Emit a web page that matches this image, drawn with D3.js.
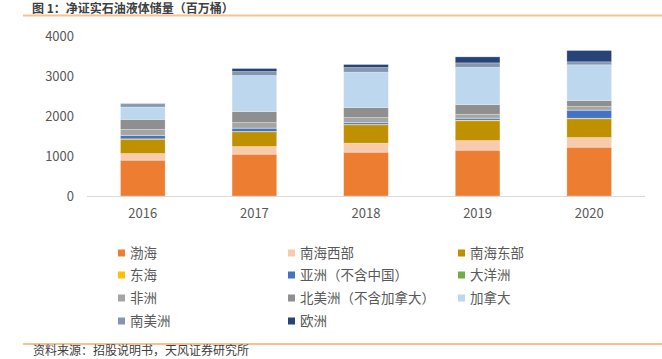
<!DOCTYPE html>
<html><head><meta charset="utf-8">
<script src="https://cdn.jsdelivr.net/npm/d3@7"></script>
<style>body{margin:0;background:#fff}svg{display:block}text{font-family:"Noto Sans CJK SC","Liberation Sans",sans-serif}</style>
</head><body><svg id="c" width="662" height="359"></svg>
<script>
const years = ["2016","2017","2018","2019","2020"];
const seriesNames = ["渤海","南海西部","南海东部","东海","亚洲（不含中国）","大洋洲","非洲","北美洲（不含加拿大）","加拿大","南美洲","欧洲"];
const bohai     = [895, 1045, 1095, 1145, 1220];
const nanhaiXi  = [167, 192, 225, 242, 242];
const nanhaiDong= [358, 368, 460, 493, 468];
const donghai   = [10, 10, 10, 18, 15];
const asia      = [85, 80, 40, 45, 200];
const oceania   = [5, 5, 5, 5, 5];
const africa    = [145, 137, 127, 95, 87];
const northAm   = [250, 275, 250, 242, 150];
const canada    = [310, 900, 883, 933, 893];
const southAm   = [82, 100, 117, 110, 75];
const europe    = [5, 75, 75, 150, 282];
const yTicks = [0, 1000, 2000, 3000, 4000];
const colors = ["#ED7D31","#F8CBAD","#BF9000","#FFC000","#4472C4","#70AD47","#A5A5A5","#8F8F8F","#BDD7EE","#8497B0","#264478"];

const allSeries = [bohai,nanhaiXi,nanhaiDong,donghai,asia,oceania,africa,northAm,canada,southAm,europe];
const rows = years.map((y,i)=>{const o={year:y};seriesNames.forEach((n,k)=>o[n]=allSeries[k][i]);return o;});
const stacked = d3.stack().keys(seriesNames)(rows);

const svg = d3.select("#c");
const x = d3.scaleBand().domain(years).range([87,645]).paddingInner(0.6).paddingOuter(0.3);
const y = d3.scaleLinear().domain([0,4000]).range([196,36]);

// title & decorations
svg.append("text").attr("x",32).attr("y",12.5).attr("font-size",12).attr("font-weight","bold").attr("fill","#404040").text("图 1：净证实石油液体储量（百万桶）");
svg.append("line").attr("x1",23).attr("x2",662).attr("y1",15.5).attr("y2",15.5).attr("stroke","#FAC090").attr("stroke-width",2);
svg.append("line").attr("x1",23).attr("x2",662).attr("y1",344).attr("y2",344).attr("stroke","#FAC090").attr("stroke-width",2);
svg.append("text").attr("x",33).attr("y",355).attr("font-size",12).attr("fill","#404040").text("资料来源：招股说明书，天风证券研究所");

// y axis labels
svg.append("g").selectAll("text").data(yTicks).join("text")
  .attr("x",74).attr("y",d=>y(d)).attr("dy","0.35em").attr("text-anchor","end")
  .attr("font-size",13).attr("fill","#595959").attr("font-family","Liberation Sans, Arial, sans-serif").text(d=>d);

// bars
svg.append("g").selectAll("g").data(stacked).join("g").attr("fill",(d,i)=>colors[i])
  .selectAll("rect").data(d=>d).join("rect")
  .attr("x",d=>x(d.data.year)).attr("width",x.bandwidth())
  .attr("y",d=>y(d[1])).attr("height",d=>Math.max(0,y(d[0])-y(d[1])))
  .attr("stroke","#fff").attr("stroke-opacity",0.35).attr("stroke-width",0.75);

// baseline
svg.append("line").attr("x1",87).attr("x2",645).attr("y1",196.5).attr("y2",196.5).attr("stroke","#D9D9D9").attr("stroke-width",1);

// x labels
svg.append("g").selectAll("text").data(years).join("text")
  .attr("x",d=>x(d)+x.bandwidth()/2).attr("y",213).attr("dy","0.35em").attr("text-anchor","middle")
  .attr("font-size",13).attr("fill","#595959").attr("font-family","Liberation Sans, Arial, sans-serif").text(d=>d);

// legend
const colX = [118,288,458], rowY = [253,275,298,321];
const lg = svg.append("g").selectAll("g").data(seriesNames).join("g")
  .attr("transform",(d,i)=>`translate(${colX[i%3]},${rowY[Math.floor(i/3)]})`);
lg.append("rect").attr("x",0).attr("y",-3.5).attr("width",7).attr("height",7).attr("fill",(d,i)=>colors[i]);
lg.append("text").attr("x",12).attr("y",0).attr("dy","0.36em").attr("font-size",13.5).attr("fill","#595959").text(d=>d);
</script></body></html>
